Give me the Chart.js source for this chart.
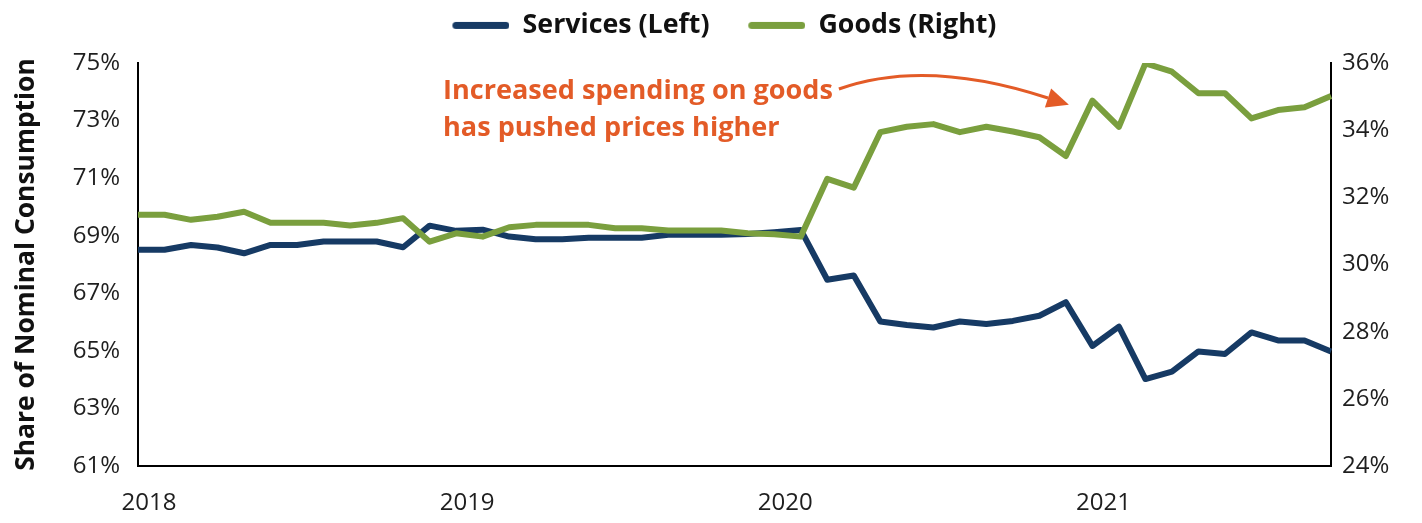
<!DOCTYPE html>
<html>
<head>
<meta charset="utf-8">
<script src="https://cdn.jsdelivr.net/npm/chart.js@4.4.1/dist/chart.umd.min.js"></script>
<style>
  html, body { margin: 0; padding: 0; background: #ffffff; }
  #wrap { width: 1422px; height: 523px; position: relative; }
</style>
</head>
<body>
<div id="wrap"><canvas id="c" width="1422" height="523"></canvas></div>
<script>
// ---------------- data ----------------
const months = [
  '2018-01','2018-02','2018-03','2018-04','2018-05','2018-06','2018-07','2018-08','2018-09','2018-10','2018-11','2018-12',
  '2019-01','2019-02','2019-03','2019-04','2019-05','2019-06','2019-07','2019-08','2019-09','2019-10','2019-11','2019-12',
  '2020-01','2020-02','2020-03','2020-04','2020-05','2020-06','2020-07','2020-08','2020-09','2020-10','2020-11','2020-12',
  '2021-01','2021-02','2021-03','2021-04','2021-05','2021-06','2021-07','2021-08','2021-09','2021-10'
];
const yearTickLabels = ['2018', '2019', '2020', '2021'];

// Services share of nominal consumption (left axis, %)
const servicesLeft = [
  68.51, 68.51, 68.68, 68.59, 68.39, 68.68, 68.68, 68.80, 68.80, 68.80, 68.60, 69.35,
  69.17, 69.21, 68.97, 68.88, 68.88, 68.93, 68.93, 68.93, 69.03, 69.03, 69.03, 69.06,
  69.12, 69.20, 67.47, 67.62, 66.02, 65.90, 65.81, 66.02, 65.93, 66.04, 66.22, 66.69,
  65.17, 65.84, 64.02, 64.28, 64.98, 64.89, 65.64, 65.36, 65.36, 64.98
];
// Goods share of nominal consumption (right axis, %)
const goodsRight = [
  31.48, 31.48, 31.33, 31.42, 31.57, 31.24, 31.24, 31.24, 31.16, 31.24, 31.38, 30.68,
  30.93, 30.83, 31.11, 31.18, 31.18, 31.18, 31.08, 31.08, 31.01, 31.01, 31.01, 30.93,
  30.90, 30.83, 32.55, 32.29, 33.94, 34.10, 34.18, 33.94, 34.10, 33.96, 33.79, 33.23,
  34.88, 34.10, 35.99, 35.74, 35.10, 35.10, 34.35, 34.60, 34.68, 35.02
];
const leftTicks = [61, 63, 65, 67, 69, 71, 73, 75];
const rightTicks = [24, 26, 28, 30, 32, 34, 36];

const seriesNames = ['Services (Left)', 'Goods (Right)'];
const yTitle = 'Share of Nominal Consumption';
const noteLines = ['Increased spending on goods', 'has pushed prices higher'];

// ---------------- style ----------------
const NAVY = '#163a64';
const GREEN = '#7a9f3e';
const ORANGE = '#e35b27';
const INK = '#1e1e1e';

function fontAvailable(name) {
  const g = document.createElement('canvas').getContext('2d');
  const s = 'abcdefghijklmnopqrstuvwxyz0123456789%()ABC';
  g.font = '40px monospace';
  const a = g.measureText(s).width;
  g.font = '40px "' + name + '", monospace';
  const b = g.measureText(s).width;
  return Math.abs(a - b) > 0.5;
}
const FAMILY = fontAvailable('Liberation Sans Narrow')
  ? '"Liberation Sans Narrow", "Open Sans", sans-serif'
  : '"Open Sans", sans-serif';

const mctx = document.createElement('canvas').getContext('2d');
function fitSize(text, weight, target) {
  mctx.font = weight + ' 100px ' + FAMILY;
  return 100 * target / mctx.measureText(text).width;
}
const tickSize = fitSize('2018', 'normal', 55);
const legendSize = fitSize(seriesNames[0], 'bold', 187);
const titleSize = fitSize(yTitle, 'bold', 413);
const noteSize = fitSize(noteLines[0], 'bold', 390);

// plot-area geometry (pixels)
const AREA_LEFT = 138, AREA_RIGHT = 1331, AREA_TOP = 63, AREA_BOTTOM = 466;
const LEG_PAD = 12;

// legend swatches: a bar 57px long, sitting 13px before the text, 39px after previous text
const BAR_LEN = 57, BAR_GAP = 13, ITEM_GAP = 39, BAR_H = 7;
const P = ITEM_GAP + BAR_GAP + BAR_LEN - LEG_PAD - legendSize / 2;
const SW_W = Math.round(P + legendSize - 2 * BAR_GAP);
function swatch(color) {
  const c = document.createElement('canvas');
  c.width = SW_W; c.height = BAR_H + 4;
  const g = c.getContext('2d');
  g.strokeStyle = color; g.lineWidth = BAR_H; g.lineCap = 'round';
  g.beginPath();
  g.moveTo(SW_W - BAR_LEN + BAR_H / 2, c.height / 2);
  g.lineTo(SW_W - BAR_H / 2, c.height / 2);
  g.stroke();
  return c;
}
const SWATCHES = [swatch(NAVY), swatch(GREEN)];

const notePlugin = {
  id: 'note',
  afterDatasetsDraw(chart) {
    const { ctx, chartArea: a } = chart;
    ctx.save();
    ctx.fillStyle = ORANGE;
    ctx.strokeStyle = ORANGE;
    ctx.font = 'bold ' + noteSize + 'px ' + FAMILY;
    ctx.textAlign = 'left';
    ctx.textBaseline = 'alphabetic';
    const tx = a.left + 305, ty = a.top + 36;
    noteLines.forEach((t, i) => ctx.fillText(t, tx, ty + i * 37));
    const x0 = tx + ctx.measureText(noteLines[0]).width + 6, y0 = a.top + 26;
    const cx = a.left + 788, cy = a.top - 5;
    const x1 = a.left + 910, y1 = a.top + 35;
    ctx.lineWidth = 3;
    ctx.beginPath();
    ctx.moveTo(x0, y0);
    ctx.quadraticCurveTo(cx, cy, x1, y1);
    ctx.stroke();
    let ux = x1 - cx, uy = y1 - cy;
    const L = Math.hypot(ux, uy); ux /= L; uy /= L;
    const nx = -uy, ny = ux;
    ctx.beginPath();
    ctx.moveTo(x1 + ux * 22, y1 + uy * 22);
    ctx.lineTo(x1 + nx * 10, y1 + ny * 10);
    ctx.lineTo(x1 - nx * 10, y1 - ny * 10);
    ctx.closePath();
    ctx.fill();
    ctx.restore();
  }
};

const tickFont = { family: FAMILY, size: tickSize, weight: 'normal', lineHeight: 1 };

new Chart(document.getElementById('c'), {
  type: 'line',
  data: {
    labels: months,
    datasets: [
      {
        label: seriesNames[0], data: servicesLeft, yAxisID: 'yL', order: 1,
        borderColor: NAVY, backgroundColor: NAVY, borderWidth: 6,
        pointRadius: 0, pointHoverRadius: 0, tension: 0, fill: false,
        borderJoinStyle: 'round', pointStyle: SWATCHES[0]
      },
      {
        label: seriesNames[1], data: goodsRight, yAxisID: 'yR', order: 0,
        borderColor: GREEN, backgroundColor: GREEN, borderWidth: 6,
        pointRadius: 0, pointHoverRadius: 0, tension: 0, fill: false,
        borderJoinStyle: 'round', pointStyle: SWATCHES[1]
      }
    ]
  },
  options: {
    responsive: false,
    animation: false,
    devicePixelRatio: 1,
    events: [],
    layout: { padding: { top: 0, left: 0, right: 0, bottom: 0 } },
    plugins: {
      tooltip: { enabled: false },
      title: {
        display: true, text: '', weight: 500,
        font: { size: 1, lineHeight: 1 },
        padding: { top: Math.max(0, AREA_TOP - (legendSize + LEG_PAD + 10) - 1), bottom: 0 }
      },
      legend: {
        position: 'top', align: 'center', fullSize: true,
        labels: {
          usePointStyle: true,
          pointStyleWidth: P,
          padding: LEG_PAD,
          color: '#111',
          font: { family: FAMILY, size: legendSize, weight: 'bold' },
          generateLabels(chart) {
            const items = Chart.defaults.plugins.legend.labels.generateLabels(chart);
            items.forEach(it => { it.pointStyle = SWATCHES[it.datasetIndex]; it.lineWidth = 0; });
            return items;
          },
          sort: (a, b) => a.datasetIndex - b.datasetIndex
        }
      }
    },
    scales: {
      x: {
        type: 'category',
        grid: { display: false, drawTicks: false },
        border: { display: true, color: '#000', width: 2 },
        ticks: {
          autoSkip: false, maxRotation: 0, minRotation: 0,
          padding: 25, labelOffset: 11, color: INK, font: tickFont,
          callback: (v, i) => (i % 12 === 0 ? yearTickLabels[i / 12] : '')
        },
        afterFit: s => { s.height = 523 - AREA_BOTTOM; }
      },
      yL: {
        type: 'linear', position: 'left',
        min: leftTicks[0], max: leftTicks[leftTicks.length - 1],
        grid: { display: false, drawTicks: false },
        border: { display: true, color: '#000', width: 2 },
        ticks: { stepSize: 2, padding: 18, color: INK, font: tickFont, callback: v => v + '%' },
        title: {
          display: true, text: yTitle, color: '#111',
          font: { family: FAMILY, size: titleSize, weight: 'bold', lineHeight: 1 },
          padding: { top: Math.max(0, 26 - titleSize / 2), bottom: 0 }
        },
        afterFit: s => { s.width = AREA_LEFT; }
      },
      yR: {
        type: 'linear', position: 'right',
        min: rightTicks[0], max: rightTicks[rightTicks.length - 1],
        grid: { display: false, drawTicks: false },
        border: { display: true, color: '#000', width: 2 },
        ticks: { stepSize: 2, padding: 11, color: INK, font: tickFont, callback: v => v + '%' },
        afterFit: s => { s.width = 1422 - AREA_RIGHT; }
      }
    }
  },
  plugins: [notePlugin]
});
</script>
</body>
</html>
